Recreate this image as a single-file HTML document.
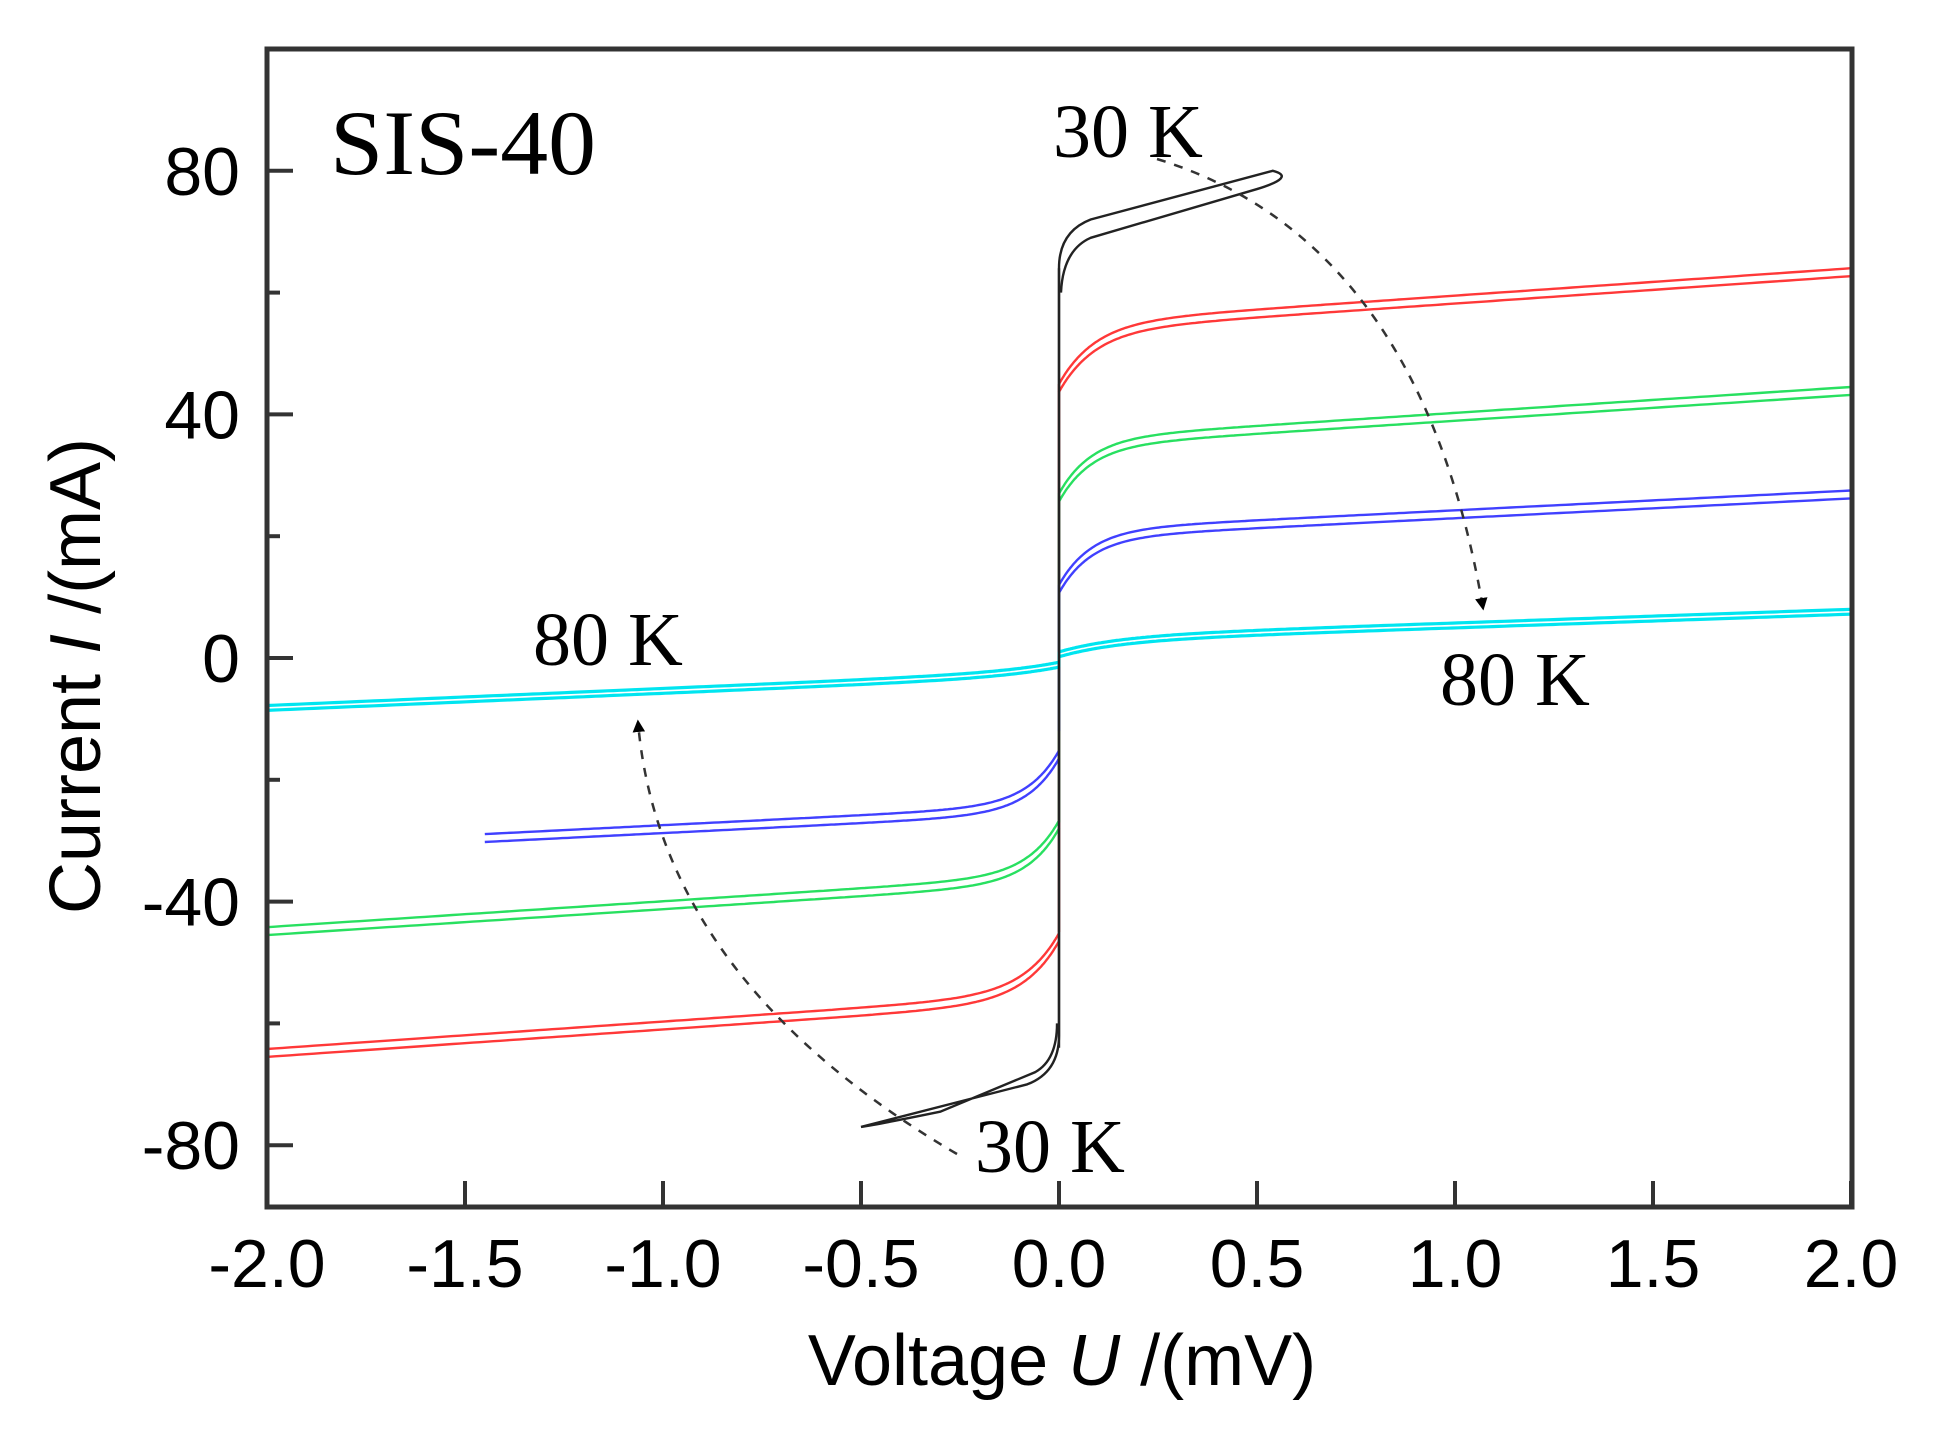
<!DOCTYPE html>
<html><head><meta charset="utf-8"><style>
html,body{margin:0;padding:0;background:#fff;}
svg{display:block;}
.t{font-family:"Liberation Sans",Arial,sans-serif;font-size:68px;fill:#000;}
.s{font-family:"Liberation Serif","Times New Roman",serif;fill:#000;}
</style></head><body>
<svg id="g" width="1942" height="1440" viewBox="0 0 1942 1440" xmlns="http://www.w3.org/2000/svg">
<defs>
<marker id="ah" viewBox="0 0 10 10" refX="8" refY="5" markerWidth="5" markerHeight="6" orient="auto">
<path d="M0,0 L10,5 L0,10 z" fill="#000"/></marker>
</defs>
<g id="curves" fill="none" stroke-width="2.4"></g>
<rect x="267" y="49" width="1585" height="1158" fill="none" stroke="#333" stroke-width="5"/>
<g id="ticks" stroke="#333" stroke-width="4"></g>
<g id="labels"></g>
<text class="t" x="1062" y="1385" text-anchor="middle" style="font-size:72px">Voltage <tspan font-style="italic">U</tspan> /(mV)</text>
<text class="t" transform="translate(100,676) rotate(-90)" text-anchor="middle" style="font-size:72px">Current <tspan font-style="italic">I</tspan> /(mA)</text>
<text class="s" x="330" y="174" style="font-size:92px" textLength="266" lengthAdjust="spacingAndGlyphs">SIS-40</text>
<text class="s" x="1053" y="157" style="font-size:76px">30 K</text>
<text class="s" x="975" y="1172" style="font-size:76px">30 K</text>
<text class="s" x="533" y="665" style="font-size:76px">80 K</text>
<text class="s" x="1440" y="705" style="font-size:76px">80 K</text>
<path d="M1157,159 Q1420,240 1483,608" fill="none" stroke="#333" stroke-width="2.5" stroke-dasharray="9,9" marker-end="url(#ah)"/>
<path d="M957,1154 Q660,980 638,722" fill="none" stroke="#333" stroke-width="2.5" stroke-dasharray="9,9" marker-end="url(#ah)"/>
</svg>
<script>
var X0=1059,SX=396,Y0=658,SY=6.09;
function px(v){return X0+v*SX;} function py(i){return Y0-i*SY;}
var cg=document.getElementById('curves');
function add(d,c,w){var p=document.createElementNS('http://www.w3.org/2000/svg','path');p.setAttribute('d',d);p.setAttribute('stroke',c);if(w)p.setAttribute('stroke-width',w);cg.appendChild(p);}
function branch(I0,A,t,B,vmax,sgn,off){
  var d='';
  for(var k=0;k<=200;k++){var v=vmax*Math.pow(k/200,2);var i=I0+A*(1-Math.exp(-v/t))+B*v+off;
    d+=(k?'L':'M')+px(sgn*v).toFixed(1)+','+py(sgn*i).toFixed(1);}
  return d;
}
function series(c,I0,A,t,B,vmaxN,dn){
  [0,-1.3].forEach(function(o){
    add(branch(I0+o,A,t,B,2,1,0),c);
    add(branch(I0+o+(dn||0),A,t,B,vmaxN,-1,0),c);
  });
  add('M'+px(0)+','+py(-(I0))+'L'+px(0)+','+py(I0),c);
}
series('#ff3838',45,10,0.09,4.5,2,1.5);
series('#28e060',27,9,0.08,4.25,2,1);
series('#4040ff',12,9,0.08,3.25,1.45,4.5);
[0,-0.8].forEach(function(o){
 add(branch(1+o,2.5,0.15,2.25,2,1,0),'#00e5f0',3.2);
 add(branch(1.5+o,1.5,0.15,2.8,2,-1,0),'#00e5f0',3.2);
});
add('M'+px(0)+','+py(-1.5)+'L'+px(0)+','+py(1),'#00e5f0',3);
add('M'+px(0)+','+py(-64)+'L'+px(0)+','+py(64)+'Q'+px(0)+','+py(70)+' '+px(0.08)+','+py(72)+'L'+px(0.54)+','+py(80)+'Q'+px(0.6)+','+py(79)+' '+px(0.5)+','+py(77)+'L'+px(0.08)+','+py(69)+'Q'+px(0.01)+','+py(67)+' '+px(0.005)+','+py(60),'#222');
add('M'+px(0)+','+py(64)+'L'+px(0)+','+py(-62)+'Q'+px(0)+','+py(-68)+' '+px(-0.08)+','+py(-70)+'L'+px(-0.5)+','+py(-77)+'Q'+px(-0.45)+','+py(-76.5)+' '+px(-0.3)+','+py(-74.5)+'L'+px(-0.06)+','+py(-68)+'Q'+px(-0.005)+','+py(-66)+' '+px(-0.005)+','+py(-60),'#222');
var tg=document.getElementById('ticks'),lg=document.getElementById('labels');
function ln(a,b,c,d){var l=document.createElementNS('http://www.w3.org/2000/svg','line');l.setAttribute('x1',a);l.setAttribute('y1',b);l.setAttribute('x2',c);l.setAttribute('y2',d);tg.appendChild(l);}
function tx(s,x,y,anc){var t=document.createElementNS('http://www.w3.org/2000/svg','text');t.setAttribute('class','t');t.setAttribute('x',x);t.setAttribute('y',y);t.setAttribute('text-anchor',anc);t.textContent=s;lg.appendChild(t);}
for(var v=-2;v<=2.001;v+=0.5){var x=px(v);ln(x,1207,x,1181);tx(v.toFixed(1),x,1287,'middle');}
for(var i=-80;i<=80;i+=40){var y=py(i);ln(267,y,293,y);tx(String(i),240,y+24,'end');}
for(var i=-60;i<=100;i+=40){var y=py(i);ln(267,y,280,y);}
</script>
</body></html>
